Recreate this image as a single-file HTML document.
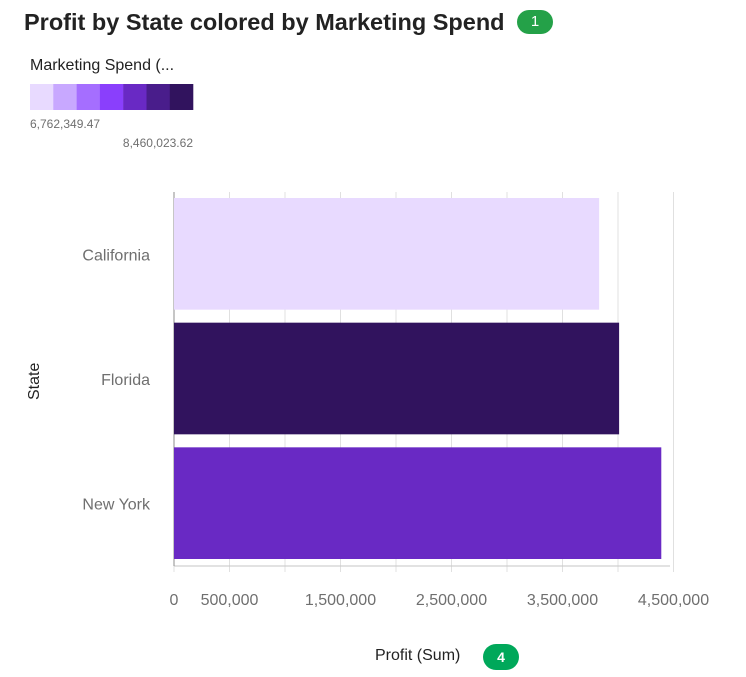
<!DOCTYPE html>
<html><head><meta charset="utf-8"><style>
body{margin:0;background:#fff;font-family:"Liberation Sans",sans-serif;}
#wrap{position:relative;width:746px;height:677px;overflow:hidden;}
.t{position:absolute;white-space:nowrap;}
</style></head><body>
<div id="wrap">
<div class="t" style="left:24px;top:9px;font-size:23.5px;font-weight:bold;color:#222;">Profit by State colored by Marketing Spend</div>
<div class="t" style="left:517px;top:10px;width:36px;height:24px;border-radius:12px;background:#24a148;color:#fff;font-size:15px;text-align:center;line-height:24px;">1</div>
<div class="t" style="left:30px;top:57px;font-size:16px;color:#222;">Marketing Spend (...</div>
<svg id="leg" style="position:absolute;left:30px;top:84px" width="170" height="70"></svg>
<svg id="chart" style="position:absolute;left:0;top:0" width="746" height="677"></svg>
<div class="t" style="left:26px;top:400px;font-size:16px;color:#222;transform:rotate(-90deg);transform-origin:left top;">State</div>
<div class="t" style="left:375px;top:647px;font-size:16px;color:#222;">Profit (Sum)</div>
<div class="t" style="left:483px;top:644px;width:36px;height:26px;border-radius:13px;background:#00a85a;color:#fff;font-size:14px;font-weight:bold;text-align:center;line-height:26px;">4</div>
</div>
<script>
const states=["California","Florida","New York"];
const profits=[3830000,4010000,4390000];
const barColors=["#e8daff","#31135e","#6929c4"];
const tickValues=[0,500000,1500000,2500000,3500000,4500000];
const tickLabels=["0","500,000","1,500,000","2,500,000","3,500,000","4,500,000"];
const gridValues=[0,500000,1000000,1500000,2000000,2500000,3000000,3500000,4000000,4500000];
const legendColors=["#e8daff","#c8a8ff","#a56eff","#8a3ffc","#6929c4","#491d8b","#31135e"];
const legendMin="6,762,349.47", legendMax="8,460,023.62";
const NS="http://www.w3.org/2000/svg";
const x0=174,pxPer=55.5/500000,plotTop=192,plotBottom=566,plotRight=670;
const xs=v=>x0+v*pxPer;
const band=(plotBottom-plotTop)/states.length;
function mk(p,t,a){const e=document.createElementNS(NS,t);for(const k in a)e.setAttribute(k,a[k]);p.appendChild(e);return e;}
const svg=document.getElementById('chart');
gridValues.forEach(v=>{const l=mk(svg,'line',{x1:xs(v),x2:xs(v),y1:plotTop,y2:plotBottom+6,stroke:'#e0e0e0','stroke-width':1});

});
const ax=mk(svg,'line',{x1:x0,x2:plotRight,y1:plotBottom,y2:plotBottom,stroke:'#c6c6c6'});


const ay=mk(svg,'line',{x1:x0,x2:x0,y1:plotTop,y2:plotBottom,stroke:'#8d8d8d'});


states.forEach((s,i)=>{const y=plotTop+i*band+6;
const r=mk(svg,'rect',{x:x0,y:y,width:xs(profits[i])-x0,height:band-13,fill:barColors[i]});


const t=mk(svg,'text',{x:150,y:plotTop+i*band+band/2+6,'text-anchor':'end','font-size':16,fill:'#6f6f6f','font-family':'Liberation Sans'});t.textContent=s;

});
tickValues.forEach((v,i)=>{const t=mk(svg,'text',{x:xs(v),y:605,'text-anchor':'middle','font-size':16,fill:'#6f6f6f','font-family':'Liberation Sans'});t.textContent=tickLabels[i];

});
const leg=document.getElementById('leg');
legendColors.forEach((c,i)=>{const r=mk(leg,'rect',{x:i*23.3,y:0,width:23.5,height:26,fill:c});

});
const a=mk(leg,'text',{x:0,y:44,'font-size':12,fill:'#6f6f6f','font-family':'Liberation Sans'});a.textContent=legendMin;


const b=mk(leg,'text',{x:163,y:63,'text-anchor':'end','font-size':12,fill:'#6f6f6f','font-family':'Liberation Sans'});b.textContent=legendMax;


</script>
</body></html>
